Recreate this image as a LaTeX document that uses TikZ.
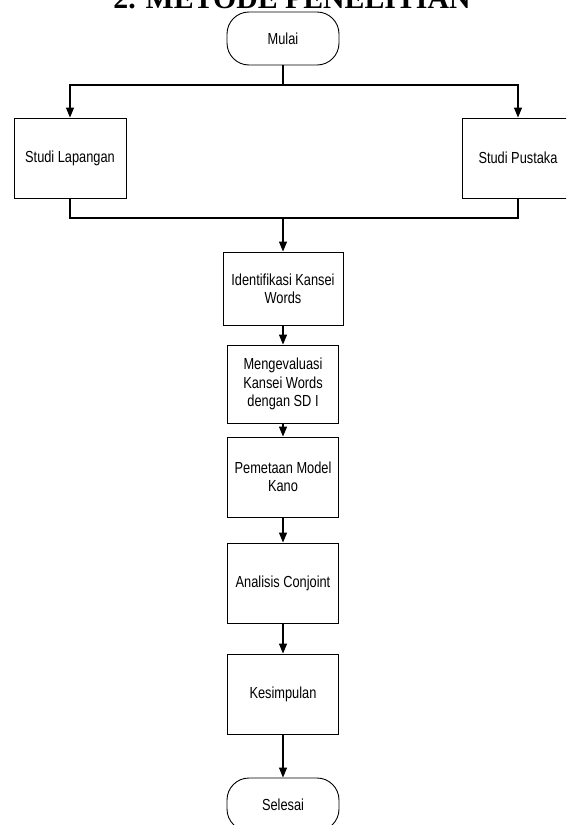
\documentclass[tikz,border=0pt]{standalone}
\usepackage{fontspec}
\newfontfamily\flowfont{Liberation Sans}[FakeStretch=0.8]
\newfontfamily\titlefont{Liberation Serif}
\usetikzlibrary{arrows.meta}

\tikzset{
	process/.style={draw, line width=0.9pt, minimum width=112pt, minimum height=80pt,
		align=center, inner sep=2pt, font=\flowfont\fontsize{16}{18.4}\selectfont},
	terminal/.style={process, rounded corners=22pt, minimum height=53pt},
	flow/.style={line width=1.2pt, -{Triangle[length=10pt,width=8pt]}},
	link/.style={line width=1.2pt}
}

\begin{document}
\begin{tikzpicture}[x=1pt, y=-1pt]
	\useasboundingbox (0,0) rectangle (566,825);
	\clip (0,0) rectangle (566,825);

	% title, cut off at the top
	\node[anchor=base, inner sep=0pt, font=\titlefont\bfseries\fontsize{29.8}{32}\selectfont] (title) at (292,8) {2. METODE PENELITIAN};

	\node[terminal] (mulai) at (283,38.5) {Mulai};
	\node[process] (lapangan) at (70,158) {Studi Lapangan};
	\node[process] (pustaka) at (518,158) {Studi Pustaka};
	\node[process, minimum width=120pt, minimum height=73pt] (identifikasi) at (283,288.5) {Identifikasi Kansei\\Words};
	\node[process, minimum width=111pt, minimum height=78pt] (evaluasi) at (283,384) {Mengevaluasi\\Kansei Words\\dengan SD I};
	\node[process, minimum width=111pt] (pemetaan) at (283,477) {Pemetaan Model\\Kano};
	\node[process, minimum width=111pt] (conjoint) at (283,583) {Analisis Conjoint};
	\node[process, minimum width=111pt] (kesimpulan) at (283,694) {Kesimpulan};
	\node[terminal] (selesai) at (283,804.5) {Selesai};

	\coordinate (split) at (283,85);
	\coordinate (join) at (283,218);

	\draw[link] (mulai) -- (split);
	\draw[flow] (split) -| (lapangan);
	\draw[flow] (split) -| (pustaka);
	\draw[link] (lapangan) |- (join);
	\draw[link] (pustaka) |- (join);
	\draw[flow] (join) -- (identifikasi);
	\draw[flow] (identifikasi) -- (evaluasi);
	\draw[flow] (evaluasi) -- (pemetaan);
	\draw[flow] (pemetaan) -- (conjoint);
	\draw[flow] (conjoint) -- (kesimpulan);
	\draw[flow] (kesimpulan) -- (selesai);
\end{tikzpicture}
\end{document}
